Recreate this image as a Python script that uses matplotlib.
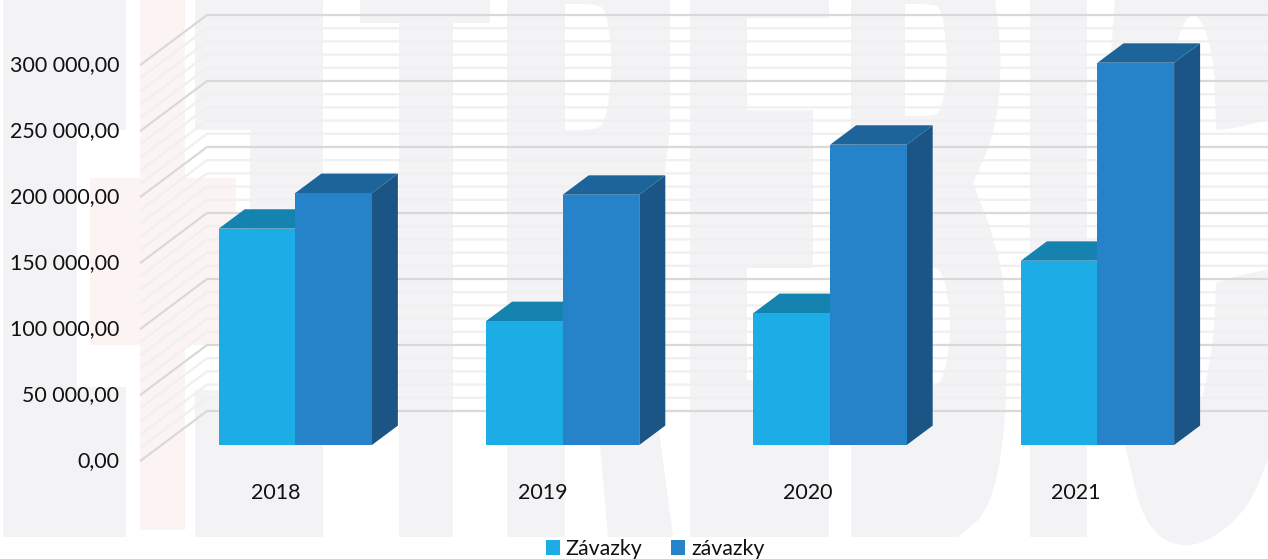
import matplotlib
matplotlib.use("Agg")
import matplotlib.pyplot as plt
from matplotlib.patches import Polygon, Rectangle
from matplotlib.transforms import Affine2D, ScaledTranslation

years = ["2018", "2019", "2020", "2021"]
series_a = [163900, 93900, 100000, 139600]
series_b = [190900, 189600, 227500, 289600]
names = ["Závazky", "závazky"]
major_ticks = [0, 50000, 100000, 150000, 200000, 250000, 300000]
minor_ticks = [v * 10000 for v in range(31) if v % 5 != 0]
tick_labels = ["0,00", "50 000,00", "100 000,00", "150 000,00", "200 000,00", "250 000,00", "300 000,00"]

W, H = 1268, 559
plt.rcParams["font.family"] = ["Lato", "DejaVu Sans"]
fig = plt.figure(figsize=(W / 100, H / 100), dpi=100)
fig.patch.set_facecolor("white")

# ---- pale watermark behind the chart, in image pixels
px = Affine2D().scale(1 / W, -1 / H).translate(0, 1) + fig.transFigure
GR, PK = "#F3F3F5", "#FCF4F2"
def wm(pts, color=GR):
    fig.add_artist(Polygon(pts, closed=True, fc=color, ec="none", transform=px, zorder=-5))
def box(x0, y0, x1, y1, color=GR):
    wm([(x0, y0), (x1, y0), (x1, y1), (x0, y1)], color)
def smooth(pts, n=2):
    """Corner cutting, so that a few read-off outline points become a curve."""
    for _ in range(n):
        out = [pts[0]]
        for i in range(len(pts) - 1):
            a, b = pts[i], pts[i + 1]
            out.append((0.75 * a[0] + 0.25 * b[0], 0.75 * a[1] + 0.25 * b[1]))
            out.append((0.25 * a[0] + 0.75 * b[0], 0.25 * a[1] + 0.75 * b[1]))
        out.append(pts[-1])
        pts = out
    return pts

# left block
box(3, 0, 126, 130); box(3, 130, 77, 387); box(3, 387, 126, 537)
# pink
box(140, 0, 185, 178, PK); box(90, 178, 236, 345, PK); box(140, 345, 185, 530, PK)
# second block
box(195, 0, 323, 130); box(250, 130, 323, 390); box(195, 390, 323, 537)
# T
box(360, 0, 490, 23); box(399, 23, 453, 537)
# R
wm([(507, 0), (670, 0), (670, 130), (664, 180), (655, 225), (650, 300), (655, 400), (661, 445),
    (673, 537), (608, 537), (600, 445), (565, 300), (565, 537), (507, 537)])
wm(smooth([(565, 4), (592, 4), (606, 8), (613, 60), (606, 124), (592, 130), (565, 130)]), "white")
# E
box(690, 0, 829, 18); box(690, 18, 747, 537); box(747, 110, 813, 268); box(747, 380, 829, 537)
# B
wm([(851, 0), (995, 0)] + smooth([(995, 0), (1002, 60), (996, 130), (973, 183)])
   + smooth([(973, 183), (995, 240), (1007, 300), (1006, 430), (990, 510), (958, 537)]) + [(851, 537)])
wm(smooth([(905, 4), (930, 4), (942, 8), (948, 60), (942, 112), (930, 116), (905, 116)]), "white")
wm(smooth([(905, 265), (930, 265), (944, 272), (952, 325), (944, 380), (930, 387), (905, 387)]), "white")
# I
box(1030, 0, 1087, 537)
# C
wm([(1115, 0), (1268, 0), (1268, 120)] + smooth([(1268, 120), (1235, 128), (1216, 130)])
   + smooth([(1216, 130), (1214, 50), (1193, 4), (1172, 50), (1165, 200)]) + [(1100, 200)])
wm(smooth([(1125, 445), (1145, 530), (1191, 552), (1245, 515), (1268, 460)], n=3)
   + smooth([(1268, 270), (1240, 275), (1216, 283)])
   + smooth([(1216, 283), (1214, 340), (1200, 412), (1173, 445)]))

# ---- chart axes: front plane of the 3-D box
L, R, T, B = 141, 1268, 0, 460.5
ax = fig.add_axes([L / W, 1 - B / H, (R - L) / W, (B - T) / H])
ax.patch.set_alpha(0)
PX_X = 267.4          # pixels per category
PX_Y = 396 / 300000   # pixels per value
X0 = 275
ax.set_xlim((L - X0) / PX_X, (R - X0) / PX_X)
ax.set_ylim(0, (B - T) / PX_Y)
for s in ax.spines.values():
    s.set_visible(False)

xmin, xmax = ax.get_xlim()
wall_x, wall_y = 66 / PX_X, 49.5 / PX_Y
for v in minor_ticks:
    ax.plot([xmin, xmin + wall_x, xmax], [v, v + wall_y, v + wall_y], color="#F0F0F0", lw=1.7, zorder=1,
            solid_joinstyle="round", clip_on=False)
for v in major_ticks:
    ax.plot([xmin, xmin + wall_x, xmax], [v, v + wall_y, v + wall_y], color="#D9D9D9", lw=1.6, zorder=2,
            solid_joinstyle="round", clip_on=False)

# ---- bars
bw = 76.6 / PX_X
shift_x, shift_y = 20.3 / PX_X, 15.5 / PX_Y     # bars stand this far into the box
dx, dy = 26 / PX_X, 19.4 / PX_Y                 # bar depth
COL_A, TOP_A = "#1DADE6", "#1583B0"
COL_B, TOP_B, SIDE_B = "#2683C9", "#1C6499", "#1A5585"

for i in range(len(years)):
    xa = i + shift_x - bw
    xb = i + shift_x
    ya, yb = series_a[i], series_b[i]
    ax.fill([xa, xa + bw, xa + bw + dx, xa + dx], [ya + shift_y, ya + shift_y, ya + shift_y + dy, ya + shift_y + dy],
            color=TOP_A, lw=0, zorder=3)
    ax.bar(xa, ya, width=bw, bottom=shift_y, align="edge", color=COL_A, lw=0, zorder=4)
    ax.fill([xb + bw, xb + bw + dx, xb + bw + dx, xb + bw],
            [shift_y, shift_y + dy, yb + shift_y + dy, yb + shift_y], color=SIDE_B, lw=0, zorder=5)
    ax.fill([xb, xb + bw, xb + bw + dx, xb + dx], [yb + shift_y, yb + shift_y, yb + shift_y + dy, yb + shift_y + dy],
            color=TOP_B, lw=0, zorder=5)
    ax.bar(xb, yb, width=bw, bottom=shift_y, align="edge", color=COL_B, lw=0, zorder=6)

# ---- ticks
FS = 15.4
ax.set_yticks(major_ticks, tick_labels, fontsize=FS, color="#111111")
ax.set_xticks([0.003, 1.0, 1.993, 2.993], years, fontsize=FS, color="#111111")
ax.tick_params(axis="y", length=0, pad=15.5)
ax.tick_params(axis="x", length=0, pad=16.2)
lift = ScaledTranslation(0, 1 / 100, fig.dpi_scale_trans)
for lab in ax.get_yticklabels():
    lab.set_transform(lab.get_transform() + lift)

# ---- legend
handles = [Rectangle((0, 0), 1, 1, fc=COL_A), Rectangle((0, 0), 1, 1, fc=COL_B)]
fig.legend(handles, names, loc="center", bbox_to_anchor=(655 / W, 1 - 549 / H), ncol=2, frameon=False,
           fontsize=FS, handlelength=0.65, handleheight=0.65, handletextpad=0.28, columnspacing=1.35,
           labelcolor="#111111", borderpad=0, borderaxespad=0)

fig.savefig("out.png", dpi=100)
